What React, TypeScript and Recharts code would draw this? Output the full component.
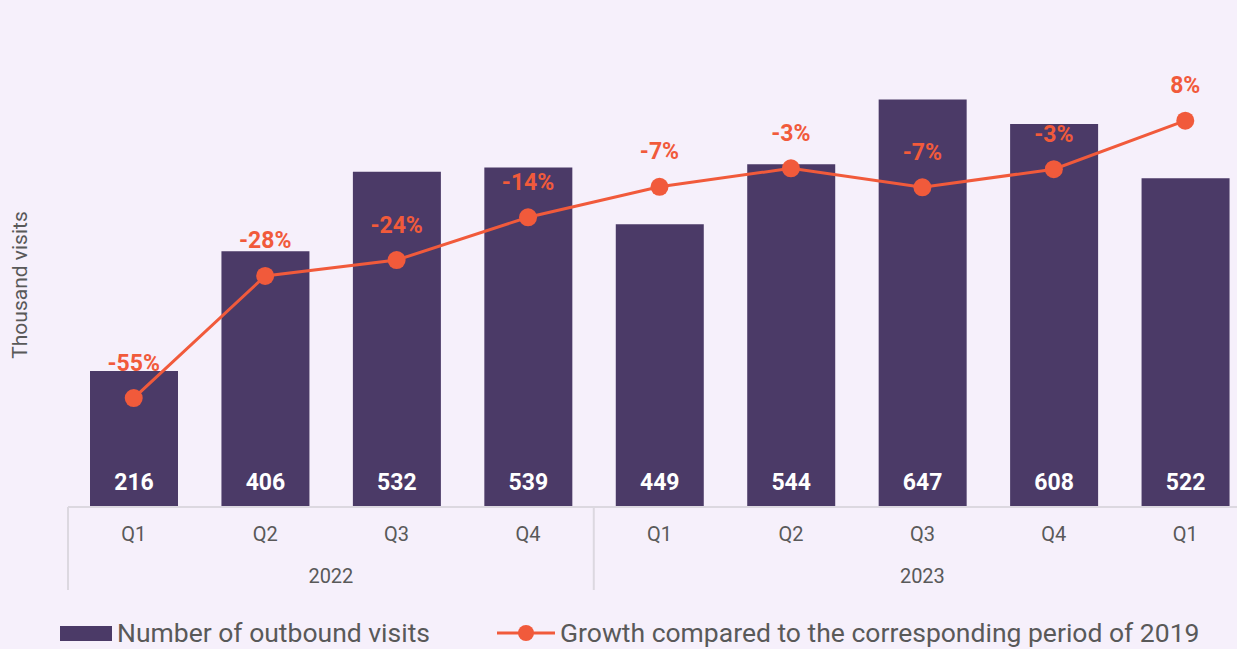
import { ComposedChart, Bar, Line, XAxis, YAxis, Legend, LabelList } from 'recharts';

const quarters = ['Q1', 'Q2', 'Q3', 'Q4', 'Q1', 'Q2', 'Q3', 'Q4', 'Q1'];
const years = ['2022', '2022', '2022', '2022', '2023', '2023', '2023', '2023', '2023'];
const visits = [216, 406, 532, 539, 449, 544, 647, 608, 522];
const growth = [-0.553, -0.276, -0.24, -0.143, -0.074, -0.032, -0.075, -0.034, 0.076];

const data = quarters.map((q, i) => ({
  period: `${years[i]} ${q}`,
  visits: visits[i],
  growth: growth[i],
}));

const PURPLE = '#4b3a67';
const ORANGE = '#f15a3b';
const GREY = '#595959';
const AXIS = '#dcd8e0';
const BG = '#f6f0fb';

const W = 1262;
const H = 649;
const M = { top: 66, right: 11, bottom: 0, left: 68 };
const PLOT_W = W - M.left - M.right;
const BAND = PLOT_W / quarters.length;

const pct = (v: number) => `${Math.round(v * 100)}%`;

function PeriodTick(props: any) {
  const { x, y, payload } = props;
  const i = payload.index;
  const yr = years[i];
  const first = i === 0 || years[i - 1] !== yr;
  const last = i === years.length - 1;
  const groupLen = years.filter((v) => v === yr).length;
  const left = x - BAND / 2;
  return (
    <g>
      <text x={x} y={y + 27} textAnchor="middle" dominantBaseline="central" fill={GREY} fontSize={20}>
        {quarters[i]}
      </text>
      {first && (
        <>
          <line x1={left} x2={left} y1={y} y2={y + 83} stroke={AXIS} strokeWidth={2} />
          <text x={left + (groupLen * BAND) / 2} y={y + 69} textAnchor="middle" dominantBaseline="central" fill={GREY} fontSize={20}>
            {yr}
          </text>
        </>
      )}
      {last && <line x1={x + BAND / 2} x2={x + BAND / 2} y1={y} y2={y + 83} stroke={AXIS} strokeWidth={2} />}
    </g>
  );
}

function LegendBox() {
  return (
    <div style={{ position: 'relative', width: 1237, height: 36, fontFamily: 'Roboto', fontSize: 26.5, color: GREY }}>
      <div style={{ position: 'absolute', left: 60, top: 11, width: 52, height: 15, background: PURPLE }} />
      <div style={{ position: 'absolute', left: 117, top: 0, lineHeight: '36px', whiteSpace: 'nowrap' }}>Number of outbound visits</div>
      <svg style={{ position: 'absolute', left: 497, top: 8 }} width={58} height={20}>
        <line x1={0} x2={58} y1={10} y2={10} stroke={ORANGE} strokeWidth={3} />
        <circle cx={29} cy={10} r={8} fill={ORANGE} />
      </svg>
      <div style={{ position: 'absolute', left: 560, top: 0, lineHeight: '36px', whiteSpace: 'nowrap' }}>
        Growth compared to the corresponding period of 2019
      </div>
    </div>
  );
}

export default function App() {
  return (
    <div style={{ position: 'fixed', left: 0, top: 0, width: 1237, height: 649, overflow: 'hidden', background: BG, fontFamily: 'Roboto' }}>
      <div
        style={{
          position: 'absolute',
          left: 20,
          top: 285,
          transform: 'translate(-50%, -50%) rotate(-90deg)',
          whiteSpace: 'nowrap',
          fontSize: 21,
          color: GREY,
        }}
      >
        Thousand visits
      </div>
      <ComposedChart width={W} height={H} data={data} margin={M} barSize={88}>
        <XAxis
          dataKey="period"
          height={142}
          tickSize={0}
          tickMargin={0}
          tickLine={false}
          axisLine={{ stroke: AXIS, strokeWidth: 2 }}
          tick={<PeriodTick />}
          interval={0}
        />
        <YAxis yAxisId="left" hide domain={[0, 700]} />
        <YAxis yAxisId="right" orientation="right" hide domain={[-0.8, 0.2]} />
        <Legend
          layout="horizontal"
          verticalAlign="middle"
          align="center"
          wrapperStyle={{ top: 615, left: 0, width: 1237 }}
          content={() => <LegendBox />}
        />
        <Bar yAxisId="left" dataKey="visits" fill={PURPLE} isAnimationActive={false}>
          <LabelList
            dataKey="visits"
            content={(p: any) => (
              <text
                x={p.x + p.width / 2}
                y={p.y + p.height - 25}
                fill="#fff"
                fontSize={23}
                fontWeight={700}
                textAnchor="middle"
                dominantBaseline="central"
              >
                {p.value}
              </text>
            )}
          />
        </Bar>
        <Line
          yAxisId="right"
          dataKey="growth"
          stroke={ORANGE}
          strokeWidth={3}
          dot={{ r: 9, fill: ORANGE, stroke: 'none' }}
          activeDot={false}
          isAnimationActive={false}
        >
          <LabelList
            dataKey="growth"
            content={(p: any) => (
              <text
                x={p.x}
                y={p.y - 35}
                fill={ORANGE}
                fontSize={23}
                fontWeight={700}
                textAnchor="middle"
                dominantBaseline="central"
              >
                {pct(p.value)}
              </text>
            )}
          />
        </Line>
      </ComposedChart>
    </div>
  );
}
